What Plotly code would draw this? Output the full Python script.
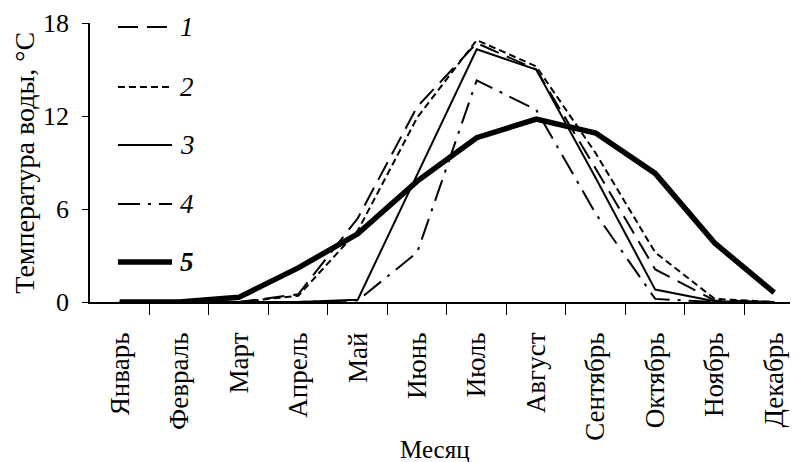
import plotly.graph_objects as go

months = ["Январь", "Февраль", "Март", "Апрель", "Май", "Июнь",
          "Июль", "Август", "Сентябрь", "Октябрь", "Ноябрь", "Декабрь"]
month_idx = list(range(len(months)))

s1 = [0, 0, 0, 0.5, 5.4, 12.6, 16.7, 15.0, 8.6, 2.1, 0.1, 0]
s2 = [0, 0, 0, 0.4, 4.6, 11.9, 16.9, 15.2, 9.6, 3.2, 0.2, 0]
s3 = [0, 0, 0, 0, 0.15, 8.2, 16.3, 15.0, 8.0, 0.8, 0.05, 0]
s4 = [0, 0, 0, 0, 0.1, 3.2, 14.3, 12.4, 5.7, 0.2, 0, 0]
s5 = [0, 0, 0.3, 2.2, 4.4, 7.8, 10.6, 11.8, 10.9, 8.3, 3.8, 0.6]

y_ticks = [0, 6, 12, 18]
legend_labels = ["<i>1</i>", "<i>2</i>", "<i>3</i>", "<i>4</i>", "<b><i>5</i></b>"]

styles = [
    ("20px,9px", 2),
    ("7px,4px", 2),
    ("solid", 2),
    ("22px,8px,3px,8px", 2),
    ("solid", 5.5),
]
data = [s1, s2, s3, s4, s5]

font_family = "Liberation Serif"
fig = go.Figure()
for lab, vals, (dash, w) in zip(legend_labels, data, styles):
    fig.add_trace(go.Scatter(
        x=month_idx, y=vals, name=lab, mode="lines",
        line=dict(color="black", width=w, dash=dash),
        cliponaxis=False, showlegend=False,
    ))

# custom legend (samples + labels) in the upper-left corner
leg_y = [0.986, 0.771, 0.563, 0.351, 0.143]
shapes = []
annotations = []
for lab, (dash, w), yy in zip(legend_labels, styles, leg_y):
    shapes.append(dict(type="line", xref="paper", yref="paper",
                       x0=0.0395, x1=0.1158, y0=yy, y1=yy,
                       line=dict(color="black", width=w, dash=dash)))
    annotations.append(dict(xref="paper", yref="paper", x=0.124, y=yy,
                            xanchor="left", yanchor="middle", text=lab,
                            showarrow=False,
                            font=dict(family=font_family, size=27, color="black")))

annotations.append(dict(xref="paper", yref="paper", x=0.487, y=-0.528,
                        xanchor="center", yanchor="middle", text="Месяц",
                        showarrow=False,
                        font=dict(family=font_family, size=25, color="black")))
annotations.append(dict(xref="paper", yref="paper", x=-0.093, y=0.5,
                        xanchor="center", yanchor="middle", textangle=-90,
                        text="Температура воды, °С", showarrow=False,
                        font=dict(family=font_family, size=28, color="black")))

# the page body adds an 8px offset, so the figure is 8px smaller each way
fig.update_layout(
    width=790, height=454,
    margin=dict(l=82, r=0, t=15, b=160),
    paper_bgcolor="white", plot_bgcolor="white",
    font=dict(family=font_family, color="black", size=26),
    showlegend=False,
    shapes=shapes,
    annotations=annotations,
    xaxis=dict(
        range=[-0.5, 11.4], automargin=False,
        tickmode="array", tickvals=month_idx, ticktext=months,
        showline=True, linecolor="black", linewidth=1.5,
        ticks="outside", ticklen=1, tickcolor="rgba(0,0,0,0)",
        ticklabelstandoff=17,
        minor=dict(tickmode="array",
                   tickvals=[i + 0.5 for i in month_idx[:-1]],
                   ticks="outside", ticklen=11, tickcolor="black", tickwidth=1.2,
                   showgrid=False),
        tickangle=-90, tickfont=dict(size=27),
        showgrid=False, zeroline=False,
    ),
    yaxis=dict(
        range=[0, 18], tickmode="array", tickvals=y_ticks, automargin=False,
        showline=True, linecolor="black", linewidth=1.5,
        ticks="outside", ticklen=6, tickcolor="black", tickwidth=1.2,
        ticklabelstandoff=8, tickfont=dict(size=26),
        showgrid=False, zeroline=False,
    ),
)

fig.write_html("out.html")
